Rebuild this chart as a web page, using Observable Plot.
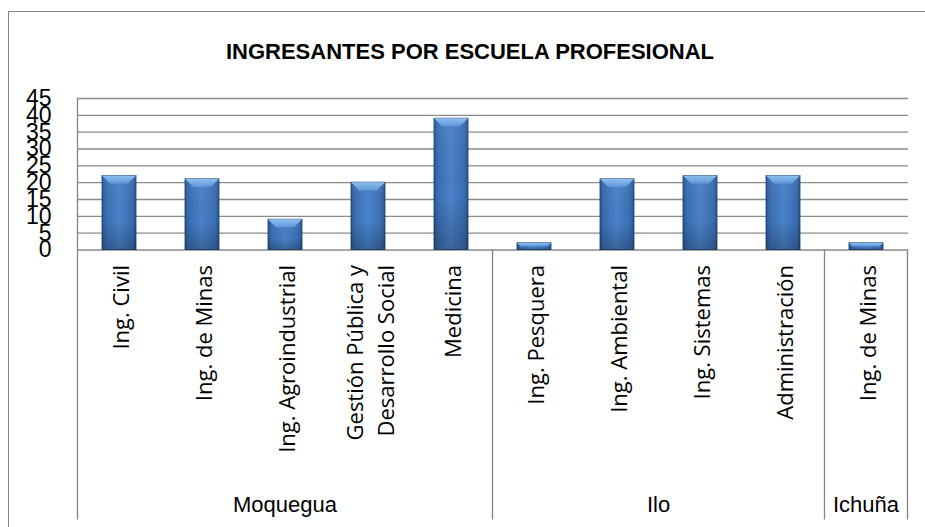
<!DOCTYPE html>
<html><head><meta charset="utf-8">
<script src="https://cdn.jsdelivr.net/npm/d3@7"></script>
<script src="https://cdn.jsdelivr.net/npm/@observablehq/plot@0.6"></script>
<style>
html,body{margin:0;padding:0;background:#fff;overflow:hidden;}
#wrap{position:relative;width:925px;height:527px;overflow:hidden;}
#frame{position:absolute;left:8px;top:11px;width:1000px;height:1000px;border:1px solid #868686;box-sizing:border-box;}
#chart{position:absolute;left:0;top:0;}
#title{position:absolute;left:15px;width:910px;top:41px;text-align:center;font:bold 22px "Liberation Sans", Arial, sans-serif;line-height:1;color:#000;}
</style></head>
<body>
<div id="wrap"><div id="frame"></div><div id="chart"></div><div id="title">INGRESANTES POR ESCUELA PROFESIONAL</div></div>
<script>
// ---- data ----
const sedes = ["Moquegua","Moquegua","Moquegua","Moquegua","Moquegua","Ilo","Ilo","Ilo","Ilo","Ichuña"];
const escuelas = ["Ing. Civil","Ing. de Minas","Ing. Agroindustrial","Gestión Pública y\nDesarrollo Social","Medicina","Ing. Pesquera","Ing. Ambiental","Ing. Sistemas","Administración","Ing. de Minas"];
const ingresantes = [22, 21, 9, 20, 39, 2, 21, 22, 22, 2];
const yTicks = [0, 5, 10, 15, 20, 25, 30, 35, 40, 45];

const keys = escuelas.map((e, i) => sedes[i] + "|" + e);
const labelByKey = new Map(keys.map((k, i) => [k, escuelas[i]]));
const table = keys.map((k, i) => ({key: k, value: ingresantes[i]}));

// groups (runs of equal sede)
const groups = [];
sedes.forEach((s, i) => {
  if (!groups.length || groups[groups.length - 1].name !== s) groups.push({name: s, start: i, end: i});
  else groups[groups.length - 1].end = i;
});

function defsMark() {
  const defs = d3.create("svg:defs");
  const add = (id, x2, y2, stops) => {
    const g = defs.append("linearGradient").attr("id", id)
      .attr("x1", 0).attr("y1", 0).attr("x2", x2).attr("y2", y2);
    stops.forEach(([o, c, op]) => g.append("stop").attr("offset", o).attr("stop-color", c).attr("stop-opacity", op == null ? 1 : op));
  };
  add("barH", 1, 0, [[0, "#2a5792"], [0.12, "#3a6eb2"], [0.5, "#4a82c8"], [0.88, "#3a6eb2"], [1, "#2a5792"]]);
  add("barV", 0, 1, [[0, "#ffffff", 0.05], [0.6, "#000000", 0.0], [1, "#000000", 0.22]]);
  add("bevel", 0, 1, [[0, "#8fbff0"], [1, "#5f98da"]]);
  return defs.node();
}

function bevelMark(index, scales) {
  const x = scales.x, y = scales.y;
  const bw = x.bandwidth();
  const g = d3.create("svg:g");
  keys.forEach((k, i) => {
    const x0 = x(k), x1 = x0 + bw, yt = y(ingresantes[i]), yb = y(0);
    const b = Math.min(8, (yb - yt) / 2, bw / 2);
    g.append("polygon")
      .attr("points", `${x0},${yt} ${x1},${yt} ${x1 - b},${yt + b} ${x0 + b},${yt + b}`)
      .attr("fill", "url(#bevel)");
  });
  return g.node();
}

function groupMark(index, scales) {
  const x = scales.x, y = scales.y;
  const bw = x.bandwidth(), step = x.step(), half = (step - bw) / 2;
  const y0 = y(0), yBottom = y0 + 270;
  const g = d3.create("svg:g");
  const line = (xx, ya, yb) => g.append("line").attr("x1", xx).attr("x2", xx).attr("y1", ya).attr("y2", yb)
    .attr("stroke", "#868686").attr("stroke-width", 1.3);
  groups.forEach((gr, j) => {
    const left = x(keys[gr.start]) - half;
    const right = x(keys[gr.end]) + bw + half;
    line(left, j === 0 ? y(45) : y0, yBottom);
    if (j === groups.length - 1) line(right, y0, yBottom);
    g.append("text").attr("x", (left + right) / 2).attr("y", y0 + 262)
      .attr("text-anchor", "middle").attr("font-size", 22).attr("font-family", "Liberation Sans, Arial, sans-serif")
      .attr("fill", "#000").text(gr.name);
  });
  return g.node();
}

const chart = Plot.plot({
  width: 925,
  height: 527,
  marginLeft: 77,
  marginRight: 17,
  marginTop: 98,
  marginBottom: 277.5,
  x: {domain: keys, paddingInner: 0.59, paddingOuter: 0.295, label: null},
  y: {domain: [0, 45], label: null},
  style: {background: "transparent", fontFamily: "Liberation Sans, Arial, sans-serif", overflow: "visible", color: "#000"},
  marks: [
    defsMark,
    Plot.gridY(yTicks, {stroke: "#8a8a8a", strokeOpacity: 1, strokeWidth: 1.3}),
    Plot.barY(table, {x: "key", y: "value", fill: "url(#barH)", stroke: "#1b3a63", strokeWidth: 0.8}),
    Plot.barY(table, {x: "key", y: "value", fill: "url(#barV)"}),
    bevelMark,
    groupMark,
    Plot.axisY({ticks: yTicks, tickSize: 0, tickPadding: 26, fontSize: 23, label: null, fontFamily: "Liberation Sans, Arial, sans-serif", tickFormat: d => String(d)}),
    Plot.axisX({tickSize: 0, tickPadding: 15, tickRotate: -90, label: null, fontSize: 22, fontFamily: "'Open Sans', sans-serif", lineHeight: 1.4, tickFormat: k => labelByKey.get(k)})
  ]
});
document.getElementById("chart").appendChild(chart);
</script>
</body></html>
